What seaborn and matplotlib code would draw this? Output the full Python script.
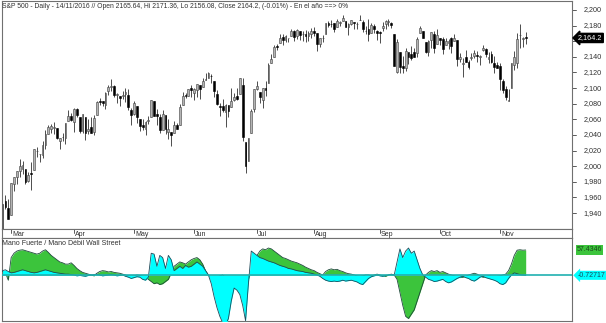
import numpy as np
import pandas as pd
import matplotlib
matplotlib.use("Agg")
import matplotlib.pyplot as plt
import seaborn as sns

sns.set_style("white")
plt.rcParams['font.family'] = ['Liberation Sans', 'DejaVu Sans']

# ---------------- data ----------------
dates = ["2016-02-25", "2016-02-26", "2016-02-29",
 "2016-03-01","2016-03-02","2016-03-03","2016-03-04","2016-03-07","2016-03-08","2016-03-09","2016-03-10","2016-03-11",
 "2016-03-14","2016-03-15","2016-03-16","2016-03-17","2016-03-18","2016-03-21","2016-03-22","2016-03-23","2016-03-24",
 "2016-03-28","2016-03-29","2016-03-30","2016-03-31",
 "2016-04-01","2016-04-04","2016-04-05","2016-04-06","2016-04-07","2016-04-08","2016-04-11","2016-04-12","2016-04-13",
 "2016-04-14","2016-04-15","2016-04-18","2016-04-19","2016-04-20","2016-04-21","2016-04-22","2016-04-25","2016-04-26",
 "2016-04-27","2016-04-28","2016-04-29",
 "2016-05-02","2016-05-03","2016-05-04","2016-05-05","2016-05-06","2016-05-09","2016-05-10","2016-05-11","2016-05-12",
 "2016-05-13","2016-05-16","2016-05-17","2016-05-18","2016-05-19","2016-05-20","2016-05-23","2016-05-24","2016-05-25",
 "2016-05-26","2016-05-27","2016-05-31",
 "2016-06-01","2016-06-02","2016-06-03","2016-06-06","2016-06-07","2016-06-08","2016-06-09","2016-06-10","2016-06-13",
 "2016-06-14","2016-06-15","2016-06-16","2016-06-17","2016-06-20","2016-06-21","2016-06-22","2016-06-23","2016-06-24",
 "2016-06-27","2016-06-28","2016-06-29","2016-06-30",
 "2016-07-01","2016-07-05","2016-07-06","2016-07-07","2016-07-08","2016-07-11","2016-07-12","2016-07-13","2016-07-14",
 "2016-07-15","2016-07-18","2016-07-19","2016-07-20","2016-07-21","2016-07-22","2016-07-25","2016-07-26","2016-07-27",
 "2016-07-28","2016-07-29",
 "2016-08-01","2016-08-02","2016-08-03","2016-08-04","2016-08-05","2016-08-08","2016-08-09","2016-08-10","2016-08-11",
 "2016-08-12","2016-08-15","2016-08-16","2016-08-17","2016-08-18","2016-08-19","2016-08-22","2016-08-23","2016-08-24",
 "2016-08-25","2016-08-26","2016-08-29","2016-08-30","2016-08-31",
 "2016-09-01","2016-09-02","2016-09-06","2016-09-07","2016-09-08","2016-09-09","2016-09-12","2016-09-13","2016-09-14",
 "2016-09-15","2016-09-16","2016-09-19","2016-09-20","2016-09-21","2016-09-22","2016-09-23","2016-09-26","2016-09-27",
 "2016-09-28","2016-09-29","2016-09-30",
 "2016-10-03","2016-10-04","2016-10-05","2016-10-06","2016-10-07","2016-10-10","2016-10-11","2016-10-12","2016-10-13",
 "2016-10-14","2016-10-17","2016-10-18","2016-10-19","2016-10-20","2016-10-21","2016-10-24","2016-10-25","2016-10-26",
 "2016-10-27","2016-10-28","2016-10-31",
 "2016-11-01","2016-11-02","2016-11-03","2016-11-04","2016-11-07","2016-11-08","2016-11-09","2016-11-10","2016-11-11",
 "2016-11-14"]

opens = [1920.0,1955.0,1947.1,
 1937.1,1976.6,1985.6,1994.0,1996.1,1996.9,1981.4,1990.9,1994.7,2019.3,2015.3,2014.2,2026.9,2041.2,2047.9,2048.6,2048.6,
 2032.5,2037.9,2035.8,2058.3,2063.8,
 2056.6,2073.2,2062.5,2045.6,2063.0,2045.5,2050.2,2043.7,2065.9,2082.9,2083.1,2078.8,2096.1,2101.0,2102.1,2091.5,
 2089.4,2089.8,2092.3,2090.9,2071.8,
 2067.2,2077.2,2060.3,2052.9,2047.8,2057.6,2062.6,2083.3,2067.2,2062.5,2046.5,2065.0,2044.4,2044.2,2041.9,2052.2,
 2052.7,2078.9,2091.4,2090.1,2100.1,
 2093.9,2097.7,2104.1,2100.8,2110.2,2112.7,2115.7,2109.6,2091.8,2076.7,2077.6,2069.4,2078.2,2075.6,2085.2,2089.8,
 2092.8,2103.8,2031.5,2006.7,2042.7,2073.2,
 2099.3,2095.1,2084.4,2100.4,2107.0,2131.7,2139.5,2153.8,2157.9,2165.1,2162.0,2163.8,2166.1,2172.9,2166.5,2173.7,
 2169.0,2169.8,2166.1,2168.8,
 2173.2,2169.9,2156.8,2163.5,2168.8,2183.8,2182.2,2182.8,2178.0,2183.7,2186.1,2186.2,2177.8,2181.9,2184.2,2181.6,
 2187.8,2185.1,2173.3,2175.1,2170.2,2179.5,2173.6,
 2171.3,2177.5,2181.6,2185.2,2182.8,2169.1,2120.9,2146.0,2127.9,2125.4,2146.5,2144.0,2145.9,2144.6,2170.9,2173.3,
 2158.5,2146.0,2161.9,2168.9,2156.5,
 2164.3,2163.4,2155.2,2158.2,2164.2,2160.4,2161.4,2137.7,2130.3,2139.7,2132.9,2138.3,2140.8,2142.5,2139.4,2148.5,
 2149.7,2137.0,2144.1,2132.2,2129.8,
 2128.7,2109.4,2098.8,2083.8,2100.6,2129.9,2131.6,2167.5,2162.7,2165.6]

highs = [1951.8,1963.0,1958.3,
 1978.4,1986.5,1993.7,2009.1,2006.1,1996.9,1992.7,2005.1,2022.4,2024.6,2015.9,2032.0,2046.2,2052.4,2053.9,2056.6,2048.6,
 2036.0,2042.7,2055.9,2072.2,2067.9,
 2075.1,2074.0,2062.5,2067.3,2063.0,2060.6,2062.9,2065.1,2083.2,2087.8,2083.2,2094.7,2104.1,2111.1,2103.8,2094.3,
 2089.4,2096.9,2099.9,2099.3,2073.9,
 2083.4,2077.2,2060.3,2060.2,2058.4,2064.2,2084.9,2083.3,2073.0,2066.8,2071.9,2065.7,2060.6,2044.2,2058.4,2055.6,
 2079.7,2094.7,2094.3,2099.1,2103.5,
 2100.0,2105.3,2104.1,2113.4,2119.2,2120.6,2117.6,2109.6,2098.1,2081.3,2085.7,2079.6,2078.2,2100.7,2093.7,2099.7,
 2113.3,2113.3,2031.5,2036.1,2073.1,2098.9,
 2108.7,2095.1,2100.7,2109.1,2131.7,2143.2,2155.4,2156.5,2169.1,2169.1,2168.4,2164.6,2175.6,2174.6,2175.1,2173.7,
 2173.5,2175.0,2172.9,2177.1,
 2178.3,2170.2,2163.8,2168.2,2182.9,2185.4,2187.7,2183.4,2188.5,2186.3,2193.8,2186.2,2183.1,2187.0,2185.0,2185.2,
 2193.4,2186.7,2179.0,2187.9,2183.5,2182.3,2173.8,
 2173.6,2184.9,2186.6,2187.9,2184.9,2169.1,2163.3,2146.0,2141.3,2151.3,2146.5,2153.6,2150.8,2165.1,2180.0,2173.3,
 2158.5,2161.1,2172.4,2172.7,2175.3,
 2164.4,2165.5,2164.0,2162.9,2165.9,2169.6,2161.6,2145.4,2138.2,2149.2,2135.6,2144.4,2148.4,2147.2,2142.6,2154.8,
 2151.4,2145.7,2147.1,2140.7,2133.3,
 2131.5,2111.8,2102.6,2099.1,2132.0,2146.9,2170.1,2182.3,2165.9,2171.4]

lows = [1917.8,1945.8,1931.8,
 1937.1,1968.8,1977.4,1986.8,1989.4,1977.4,1979.8,1969.3,1994.7,2012.2,2005.2,2010.0,2022.2,2041.2,2043.1,2040.6,2034.9,
 2022.5,2031.9,2028.3,2058.3,2057.5,
 2043.9,2062.6,2042.6,2043.1,2033.8,2041.7,2041.9,2039.7,2065.9,2078.1,2077.7,2073.7,2091.7,2096.3,2088.5,2081.2,
 2077.5,2085.8,2082.3,2071.6,2052.3,
 2066.1,2054.9,2045.6,2045.8,2039.5,2054.3,2062.6,2064.5,2053.1,2043.1,2046.5,2040.8,2034.5,2025.9,2041.9,2047.3,
 2052.7,2078.9,2087.1,2090.1,2088.7,
 2085.1,2089.0,2085.4,2100.8,2110.2,2112.7,2107.0,2089.2,2078.5,2064.1,2069.8,2050.4,2062.8,2075.6,2083.0,2084.4,
 2092.8,2032.6,1991.7,2006.7,2042.7,2070.0,
 2097.9,2080.9,2074.0,2089.4,2107.0,2131.7,2139.5,2149.0,2157.9,2155.8,2159.6,2159.0,2166.1,2159.8,2163.2,2161.9,
 2160.2,2159.1,2159.7,2163.5,
 2166.2,2147.6,2152.7,2159.1,2168.8,2177.9,2178.6,2172.0,2178.0,2179.4,2186.1,2178.1,2168.5,2180.5,2175.1,2176.0,
 2186.8,2171.3,2169.7,2160.4,2170.2,2170.4,2161.4,
 2157.1,2173.6,2175.1,2179.1,2177.5,2127.8,2119.1,2119.1,2119.9,2122.4,2131.2,2135.9,2139.2,2139.6,2170.9,2164.0,
 2145.0,2141.6,2151.8,2145.2,2156.5,
 2154.8,2144.0,2155.2,2150.3,2144.9,2160.4,2128.8,2132.8,2114.7,2133.0,2124.4,2135.5,2138.2,2133.4,2130.1,2146.9,
 2139.6,2131.6,2132.5,2119.4,2125.5,
 2097.9,2094.0,2085.2,2083.8,2100.6,2123.6,2125.4,2151.2,2152.5,2156.1]

closes = [1951.7,1948.1,1932.2,
 1978.4,1986.5,1993.4,2000.0,2001.8,1979.3,1989.3,1989.6,2022.2,2019.6,2015.9,2027.2,2040.6,2049.6,2051.6,2049.8,2036.7,
 2035.9,2037.1,2055.0,2064.0,2059.7,
 2072.8,2066.1,2045.2,2066.7,2041.9,2047.6,2042.0,2061.7,2082.4,2082.8,2080.7,2094.3,2100.8,2102.4,2091.5,2091.6,
 2087.8,2091.7,2095.2,2075.8,2065.3,
 2081.4,2063.4,2051.1,2050.6,2057.1,2058.7,2084.4,2064.5,2064.1,2046.6,2066.7,2047.2,2047.6,2040.0,2052.3,2048.0,
 2076.1,2090.5,2090.1,2099.1,2097.0,
 2099.3,2105.3,2099.1,2109.4,2112.1,2119.1,2115.5,2096.1,2079.1,2075.3,2071.5,2078.0,2071.2,2083.3,2088.9,2085.5,
 2113.3,2037.4,2000.5,2036.1,2070.8,2098.9,
 2103.0,2088.6,2099.7,2097.9,2129.9,2137.2,2152.1,2152.4,2163.8,2161.7,2166.9,2163.8,2173.0,2165.2,2175.0,2168.5,
 2169.2,2166.6,2170.1,2173.6,
 2170.8,2157.0,2163.8,2164.3,2182.9,2180.9,2181.7,2175.5,2185.8,2184.1,2190.2,2178.2,2182.2,2187.0,2183.9,2182.6,
 2186.9,2175.4,2172.5,2169.0,2180.4,2176.1,2171.0,
 2170.9,2180.0,2186.5,2186.2,2181.3,2127.8,2159.0,2127.0,2125.8,2147.3,2139.2,2139.1,2139.8,2163.1,2177.2,2164.7,
 2146.1,2159.9,2171.4,2151.1,2168.3,
 2161.2,2150.5,2159.7,2160.8,2153.7,2163.7,2136.7,2139.2,2132.6,2133.0,2126.5,2139.6,2144.3,2141.3,2141.2,2151.3,
 2143.2,2139.4,2133.0,2126.4,2126.2,
 2111.7,2097.9,2088.7,2085.2,2131.5,2139.6,2163.3,2167.5,2164.5,2164.2]

# "Mano Fuerte / Mano Débil" indicator
strong_hand = [8,5,-12,
 40,50,55,57,58,56,54,52,50,48,50,55,58,52,45,40,35,30,28,25,25,28,22,15,10,
 6,4,2,0,-2,4,8,10,9,7,8,6,5,4,2,0,-2,-3,-2,0,
 -1,-3,-5,-10,-15,-20,-18,-22,-20,-15,-10,5,20,25,30,28,25,30,35,38,
 40,35,25,10,0,-5,-8,-5,-2,0,-5,-15,-25,-30,-20,-25,-40,-30,-10,10,
 30,45,55,60,58,62,60,55,50,45,40,38,35,32,30,28,25,22,18,15,
 12,10,6,3,0,8,12,14,12,13,10,8,5,3,2,0,-2,-3,-2,0,
 0,-2,0,2,0,-2,-3,0,2,0,-10,-40,-70,-95,-100,-90,-80,-60,-40,-20,
 0,6,10,8,10,6,8,5,2,0,-2,-5,-6,-5,-3,0,2,4,2,-2,
 -5,-4,-2,-3,-5,-3,-2,0,2,10,25,45,57,58,57,57.4346]

weak_hand = [10,12,8,
 5,6,8,10,12,10,8,6,5,6,8,10,12,10,8,6,5,4,3,2,2,1,0,-2,-1,
 -2,-3,-1,0,1,2,0,-2,-1,0,1,0,-2,-1,0,-3,-5,-8,-6,-4,
 -5,-10,-12,-5,50,48,20,45,40,15,45,35,10,15,20,15,22,18,20,25,
 30,25,20,10,0,-20,-50,-75,-95,-110,-115,-100,-60,-30,-35,-45,-70,-105,-20,55,
 50,45,40,38,35,32,30,28,25,22,20,18,15,14,12,10,9,8,6,5,
 4,2,0,-3,-8,-12,-14,-15,-14,-15,-14,-12,-14,-13,-12,-14,-16,-20,-22,-15,
 -8,-4,-2,0,-2,-3,-1,0,1,0,30,60,40,55,62,50,55,35,15,0,
 -5,-10,-12,-15,-14,-12,-10,-15,-18,-16,-12,-8,-5,-3,-6,-8,-12,-14,-10,-5,
 -3,-6,-8,-10,-12,-15,-20,-22,-18,-8,0,5,3,1,0,-0.72717]

price_ticks = [1940, 1960, 1980, 2000, 2020, 2040, 2060, 2080, 2100, 2120, 2140, 2160, 2180, 2200]
hidden_tick = 2160  # covered by the last-price marker
month_labels = ["Mar", "Apr", "May", "Jun", "Jul", "Aug", "Sep", "Oct", "Nov"]

title = ("S&P 500 - Daily - 14/11/2016 // Open 2165.64, Hi 2171.36, Lo 2156.08, "
         "Close 2164.2, (-0.01%) - En el año ==> 0%")
ind_title = "Mano Fuerte / Mano Débil Wall Street"

# ---------------- build frame ----------------
df = pd.DataFrame({"date": pd.to_datetime(dates), "open": opens, "high": highs,
                   "low": lows, "close": closes,
                   "strong": strong_hand, "weak": weak_hand})
df["i"] = np.arange(len(df))
up = df["close"] >= df["open"]

W, H = 606, 323
fig = plt.figure(figsize=(W / 100, H / 100), dpi=100)
fig.patch.set_facecolor("white")

def rect(x0, y0, x1, y1):
    return [x0 / W, 1 - y1 / H, (x1 - x0) / W, (y1 - y0) / H]

AXW = 570.0
def fx(px):
    """figure pixel x -> axes fraction x"""
    return (px - 2) / AXW

XL = (-0.2, 199.2)
ax = fig.add_axes(rect(2, 1, 572, 229))
axd = fig.add_axes(rect(2, 229, 572, 238))
axi = fig.add_axes(rect(2, 238, 572, 321))

spine_col = "#707070"
for a in (ax, axd, axi):
    a.set_xlim(*XL)
    a.set_xticks([])
    a.set_yticks([])
    for s in a.spines.values():
        s.set_color(spine_col)
        s.set_linewidth(0.8)

# ---------- candlesticks ----------
ax.vlines(df["i"], df["low"], df["high"], color="#303030", lw=0.6, zorder=2)
bw = 0.62
ax.bar(df.loc[up, "i"], (df.loc[up, "close"] - df.loc[up, "open"]).clip(lower=0.6),
       bottom=df.loc[up, "open"], width=bw, color="#b4b4b4", edgecolor="#404040",
       linewidth=0.4, zorder=3)
ax.bar(df.loc[~up, "i"], (df.loc[~up, "open"] - df.loc[~up, "close"]).clip(lower=0.6),
       bottom=df.loc[~up, "close"], width=bw, color="#000000", edgecolor="#000000",
       linewidth=0.4, zorder=3)
YLO, YHI = 1919.6, 2211.5
ax.set_ylim(YLO, YHI)

def pfrac(p):
    return (p - YLO) / (YHI - YLO)

# right price scale
for p in price_ticks:
    ax.plot([1.0, fx(576)], [pfrac(p), pfrac(p)], transform=ax.transAxes, color="#404040",
            lw=0.6, clip_on=False)
    if p != hidden_tick:
        ax.text(fx(602), pfrac(p), f"{p:,}", transform=ax.transAxes, ha="right", va="center",
                fontsize=5.2, color="#303030")
last = closes[-1]
ax.text(fx(590), pfrac(last), f"{last:,.1f}", transform=ax.transAxes,
        ha="center", va="center", fontsize=5.2, color="white", zorder=10,
        bbox=dict(boxstyle="larrow,pad=0.15", fc="black", ec="black"), clip_on=False)

ax.text(0.0, 1 - 6 / 228, title, transform=ax.transAxes, ha="left", va="center",
        fontsize=4.9, color="#303030")

# ---------- month strip ----------
axd.set_ylim(0, 1)
month_starts = df.groupby(df["date"].dt.to_period("M"))["i"].min()
month_starts = month_starts.iloc[1:]
for lbl, xi in zip(month_labels, month_starts.values):
    axd.plot([xi, xi], [0.55, 1.0], color="#404040", lw=0.6)
    axd.text(xi + 0.4, 0.42, lbl, ha="left", va="center", fontsize=5.0, color="#303030")

# ---------- indicator ----------
sns.lineplot(data=df, x="i", y="strong", ax=axi, color="#1e4a3a", lw=0.6, zorder=3)
axi.fill_between(df["i"], 0, df["strong"], color="#3cc43c", lw=0, zorder=2)
sns.lineplot(data=df, x="i", y="weak", ax=axi, color="#1e4a5a", lw=0.6, zorder=5)
axi.fill_between(df["i"], 0, df["weak"], color="#00ffff", lw=0, zorder=4)
axi.axhline(0, color="#20b0b0", lw=1.2, zorder=6)
IYLO, IYHI = -105.7, 85
axi.set_ylim(IYLO, IYHI)
axi.set_xlim(*XL)
axi.set_xlabel("")
axi.set_ylabel("")
axi.set_xticks([])
axi.set_yticks([])
axi.text(0.0, 0.93, ind_title, transform=axi.transAxes, ha="left", va="center",
         fontsize=5.0, color="#303030")

def yfrac(v):
    return (v - IYLO) / (IYHI - IYLO)

axi.text(fx(589.5), yfrac(strong_hand[-1]), f"{strong_hand[-1]:.4f}", transform=axi.transAxes,
         ha="center", va="center", fontsize=5.0, color="#1a4a1a",
         bbox=dict(boxstyle="square,pad=0.15", fc="#3cc43c", ec="none"), clip_on=False)
axi.text(fx(592), yfrac(weak_hand[-1]), f"{weak_hand[-1]:.5f}", transform=axi.transAxes,
         ha="center", va="center", fontsize=5.0, color="#1a4a5a",
         bbox=dict(boxstyle="larrow,pad=0.15", fc="#00ffff", ec="none"), clip_on=False)

fig.savefig("out.png", dpi=100, facecolor="white")
